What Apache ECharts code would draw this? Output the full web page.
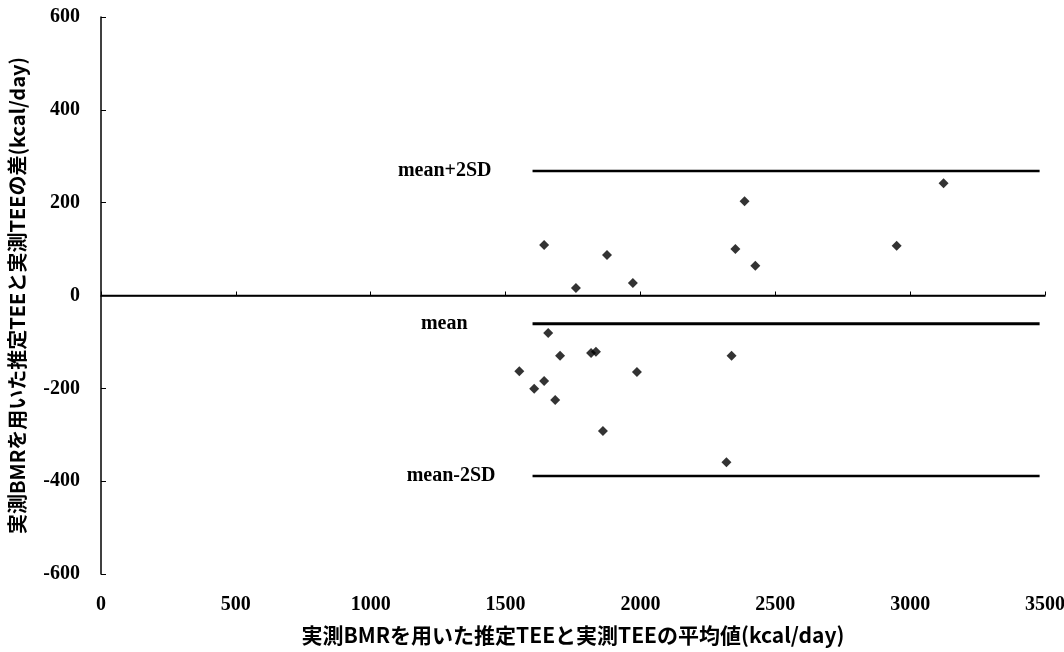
<!DOCTYPE html>
<html><head><meta charset="utf-8">
<script src="https://cdn.jsdelivr.net/npm/echarts@6/dist/echarts.min.js"></script>
<style>html,body{margin:0;padding:0;background:#fff}#c{width:1064px;height:652px}</style>
</head><body><div id="c"></div>
<script>
const xVals = [1551,1606,1643,1643,1658,1684,1702,1761,1817,1835,1861,1876,1972,1987,2319,2338,2352,2386,2426,2950,3124];
const yVals = [-163,-201,109,-184,-81,-225,-130,16,-124,-121,-292,87,27,-165,-359,-130,100,203,64,107,242];
const lineStartX = 1600, lineEndX = 3480;
const meanVal = -61, upperVal = 268, lowerVal = -389;
const lineNames = ['mean+2SD','mean','mean-2SD'];
const xTitle = '実測BMRを用いた推定TEEと実測TEEの平均値(kcal/day)';
const yTitle = '実測BMRを用いた推定TEEと実測TEEの差(kcal/day)';

const serif = '"Liberation Serif","DejaVu Serif",serif';
const jp = '"Noto Sans CJK JP","Liberation Serif",serif';
const pts = xVals.map((x,i)=>[x,yVals[i]]);
function hline(name, v, width, labelOffset){
  return {type:'line', data:[[lineStartX,v],[lineEndX,v]], symbol:'none', silent:true,
    lineStyle:{color:'#000', width:width},
    markPoint:{symbol:'circle', symbolSize:0, silent:true, data:[{coord:[lineStartX,v], label:{show:true, formatter:name, position:'left', distance:labelOffset, color:'#000', fontFamily:serif, fontWeight:'bold', fontSize:20}}]}
  };
}
const chart = echarts.init(document.getElementById('c'));
chart.setOption({
  animation:false,
  backgroundColor:'#fff',
  grid:{left:101, right:19, top:17, bottom:78, outerBoundsMode:'none', containLabel:false},
  xAxis:{type:'value', min:0, max:3500, interval:500,
    name:xTitle, nameLocation:'middle', nameGap:51,
    nameTextStyle:{fontFamily:jp, fontWeight:'bold', fontSize:21, color:'#000'},
    axisLine:{lineStyle:{color:'#000', width:1.5}},
    axisTick:{inside:true, length:4, lineStyle:{color:'#000'}},
    axisLabel:{fontFamily:serif, fontWeight:'bold', fontSize:20, color:'#000', margin:21, formatter:v=>String(v)},
    splitLine:{show:false}},
  yAxis:{type:'value', min:-600, max:600, interval:200,
    name:yTitle, nameLocation:'middle', nameGap:74, nameRotate:90,
    nameTextStyle:{fontFamily:jp, fontWeight:'bold', fontSize:20, color:'#000'},
    axisLine:{lineStyle:{color:'#000', width:1.5}},
    axisTick:{inside:true, length:5, lineStyle:{color:'#000'}},
    axisLabel:{fontFamily:serif, fontWeight:'bold', fontSize:20, color:'#000', margin:21, formatter:v=>String(v)},
    splitLine:{show:false}},
  series:[
    {type:'line', data:[[0,0],[3500,0]], symbol:'none', silent:true, lineStyle:{color:'#000', width:1.5}},
    hline(lineNames[0], upperVal, 2.5, 41),
    hline(lineNames[1], meanVal, 3, 65),
    hline(lineNames[2], lowerVal, 2.5, 37),
    {type:'scatter', data:pts, symbol:'diamond', symbolSize:10, itemStyle:{color:'#000'}}
  ]
});
</script></body></html>
